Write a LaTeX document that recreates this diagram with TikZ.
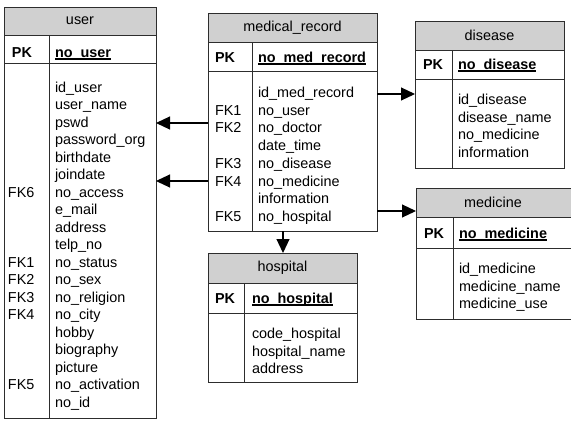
\documentclass[tikz,border=0pt]{standalone}
\usepackage{fontspec}
\setmainfont{Liberation Sans}
\usetikzlibrary{arrows.meta}

\definecolor{headgray}{RGB}{208,208,208}
\definecolor{edge}{RGB}{45,45,45}

% bold key name with a heavy underline
\newcommand\keyname[1]{\setbox0\hbox{\bfseries #1}\rlap{\rule[-2.6pt]{\wd0}{1.3pt}}\box0}

\tikzset{
  every node/.style={inner sep=0pt, outer sep=0pt},
  txt/.style={font=\fontsize{14.4}{17.5}\selectfont, text=black},
  attr/.style={txt, anchor=base west},
  pklabel/.style={anchor=base west, font=\fontsize{14.4}{17.5}\selectfont\bfseries},
  headcell/.style={draw=edge, fill=headgray, line width=0.9pt, anchor=north west, txt},
  cell/.style={draw=edge, fill=white, line width=0.9pt, anchor=north west},
  divider/.style={draw=edge, line width=0.9pt},
  fk/.style={draw=black, line width=1.1pt, -{Triangle[length=14pt,width=13pt]}},
}

% table frame: name, left, top, right, divider x, header bottom, key row bottom, bottom, title
\newcommand\ertable[9]{%
  \node[headcell, minimum width={(#4-#2)*1pt}, minimum height={(#6-#3)*1pt}] (#1-head) at (#2,#3) {#9};
  \node[cell, minimum width={(#4-#2)*1pt}, minimum height={(#7-#6)*1pt}] (#1-pk) at (#2,#6) {};
  \node[cell, minimum width={(#4-#2)*1pt}, minimum height={(#8-#7)*1pt}] (#1-body) at (#2,#7) {};
  \draw[divider] (#5,#6) -- (#5,#8);
}
% attribute column: prefix, x, first baseline, line step, list
\newcommand\attrlines[5]{%
  \foreach \t [count=\i from 0] in {#5}{\node[attr] (#1-a\i) at (#2,{#3+\i*#4}) {\t};}
}
% foreign key labels: prefix, x, first baseline, line step, list of index/label
\newcommand\fklabels[5]{%
  \foreach \k/\t in {#5}{\node[attr] (#1-\t) at (#2,{#3+\k*#4}) {\t};}
}

\begin{document}
\begin{tikzpicture}[x=1pt,y=-1pt]
\useasboundingbox (0,0) rectangle (571,421);

% user
\ertable{user}{4}{7}{156}{49}{35}{63}{418}{user}
\node[pklabel] (user-pkl) at (12,57) {PK};
\node[attr] (user-key) at (55,57) {\keyname{no\_user}};
\attrlines{user}{55}{92}{17.5}{id\_user,user\_name,pswd,password\_org,birthdate,joindate,no\_access,e\_mail,address,telp\_no,no\_status,no\_sex,no\_religion,no\_city,hobby,biography,picture,no\_activation,no\_id}
\fklabels{user}{8}{92}{17.5}{6/FK6,10/FK1,11/FK2,12/FK3,13/FK4,17/FK5}

% medical_record
\ertable{med}{208}{13}{377}{252}{42}{71}{231}{medical\_record}
\node[pklabel] (med-pkl) at (215,62) {PK};
\node[attr] (med-key) at (258,62) {\keyname{no\_med\_record}};
\attrlines{med}{258}{97.5}{17.7}{id\_med\_record,no\_user,no\_doctor,date\_time,no\_disease,no\_medicine,information,no\_hospital}
\fklabels{med}{215}{97.5}{17.7}{1/FK1,2/FK2,4/FK3,5/FK4,7/FK5}

% disease
\ertable{dis}{415}{21}{564}{452}{50}{79}{168}{disease}
\node[pklabel] (dis-pkl) at (423,69) {PK};
\node[attr] (dis-key) at (458,69) {\keyname{no\_disease}};
\attrlines{dis}{458}{104.5}{17.7}{id\_disease,disease\_name,no\_medicine,information}

% medicine
\ertable{medi}{416}{188}{576}{453}{217}{248}{319}{\hspace*{-6pt}medicine}
\node[pklabel] (medi-pkl) at (424,238) {PK};
\node[attr] (medi-key) at (459,238) {\keyname{no\_medicine}};
\attrlines{medi}{459}{273.5}{17.5}{id\_medicine,medicine\_name,medicine\_use}

% hospital
\ertable{hosp}{208}{253}{357}{244}{283}{313}{382}{hospital}
\node[pklabel] (hosp-pkl) at (215,303) {PK};
\node[attr] (hosp-key) at (252,303) {\keyname{no\_hospital}};
\attrlines{hosp}{252}{338.5}{17.5}{code\_hospital,hospital\_name,address}

% relationships
\coordinate (r1) at (0,123);
\coordinate (r2) at (0,181);
\coordinate (r3) at (0,94);
\coordinate (r4) at (0,211);
\coordinate (r5) at (283,0);
\draw[fk] (med-body.west |- r1) -- (user-body.east |- r1);
\draw[fk] (med-body.west |- r2) -- (user-body.east |- r2);
\draw[fk] (med-body.east |- r3) -- (dis-body.west |- r3);
\draw[fk] (med-body.east |- r4) -- (medi-head.west |- r4);
\draw[fk] (med-body.south -| r5) -- (hosp-head.north -| r5);
\end{tikzpicture}
\end{document}
